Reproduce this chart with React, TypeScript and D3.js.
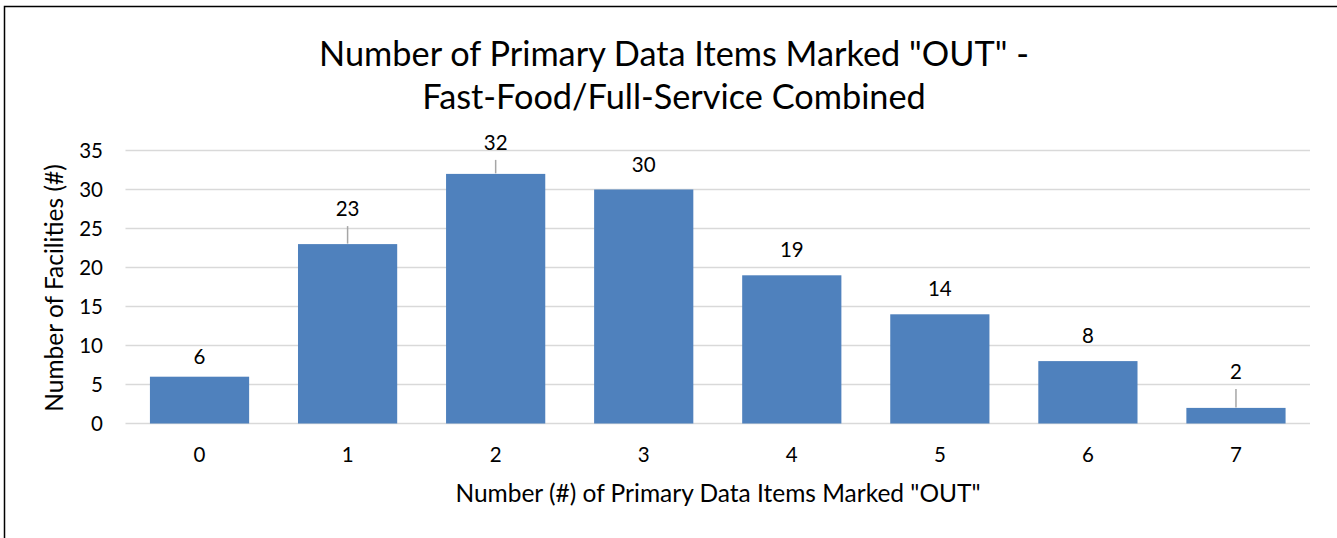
import React from "react";
import * as d3 from "d3";

const categories = ["0", "1", "2", "3", "4", "5", "6", "7"];
const values = [6, 23, 32, 30, 19, 14, 8, 2];
const yTicks = [0, 5, 10, 15, 20, 25, 30, 35];
const leaderLines = [false, true, true, false, false, false, false, true];
const titleLines = ['Number of Primary Data Items Marked "OUT" -', "Fast-Food/Full-Service Combined"];
const xTitle = 'Number (#) of Primary Data Items Marked "OUT"';
const yTitle = "Number of Facilities (#)";

// label placement (pixels above bar top), as the data labels were nudged in the source
const labelLift = [12.7, 28, 24, 18, 18, 18, 18, 29];

const W = 1337, H = 538;
const FONT = "Lato, 'Open Sans', sans-serif";

export default function App() {
  const x = d3.scaleBand().domain(categories).range([125.5, 1310]).paddingInner(0.33).paddingOuter(0.165);
  const y = d3.scaleLinear().domain([0, 35]).range([423.5, 150.5]);
  return (
    <svg width={W} height={H} style={{ position: "absolute", left: 0, top: 0 }}>
      <rect x={0} y={0} width={W} height={H} fill="#fff" />
      <rect x={4.5} y={6.5} width={W + 10} height={H + 10} fill="none" stroke="#000" strokeWidth={1.5} />
      {titleLines.map((t, i) => (
        <text key={i} x={674} y={66 + i * 43} textAnchor="middle" fontFamily={FONT} fontSize={34.3} fill="#000">{t}</text>
      ))}
      {yTicks.map((t) => (
        <g key={t}>
          <line x1={125.5} x2={1310} y1={y(t)} y2={y(t)} stroke="#D9D9D9" strokeWidth={1.5} />
          <text x={103} y={y(t)} dy="0.36em" textAnchor="end" fontFamily={FONT} fontSize={20.5} fill="#000">{t}</text>
        </g>
      ))}
      {values.map((v, i) => {
        const cx = x(categories[i])! + x.bandwidth() / 2;
        const top = y(v);
        const lift = labelLift[i];
        return (
          <g key={i}>
            <rect x={x(categories[i])} y={top} width={x.bandwidth()} height={y(0) - top} fill="#4F81BD" />
            {leaderLines[i] && <line x1={cx} x2={cx} y1={top - 0.5} y2={top - (lift - 10)} stroke="#A6A6A6" strokeWidth={1.5} />}
            <text x={cx} y={top - lift} textAnchor="middle" fontFamily={FONT} fontSize={20.5} fill="#000">{v}</text>
            <text x={cx} y={462} textAnchor="middle" fontFamily={FONT} fontSize={20.5} fill="#000">{categories[i]}</text>
          </g>
        );
      })}
      <text x={718} y={501.5} textAnchor="middle" fontFamily={FONT} fontSize={24.5} fill="#000">{xTitle}</text>
      <text transform={`translate(62.5,288) rotate(-90)`} textAnchor="middle" fontFamily={FONT} fontSize={24.5} fill="#000">{yTitle}</text>
    </svg>
  );
}
